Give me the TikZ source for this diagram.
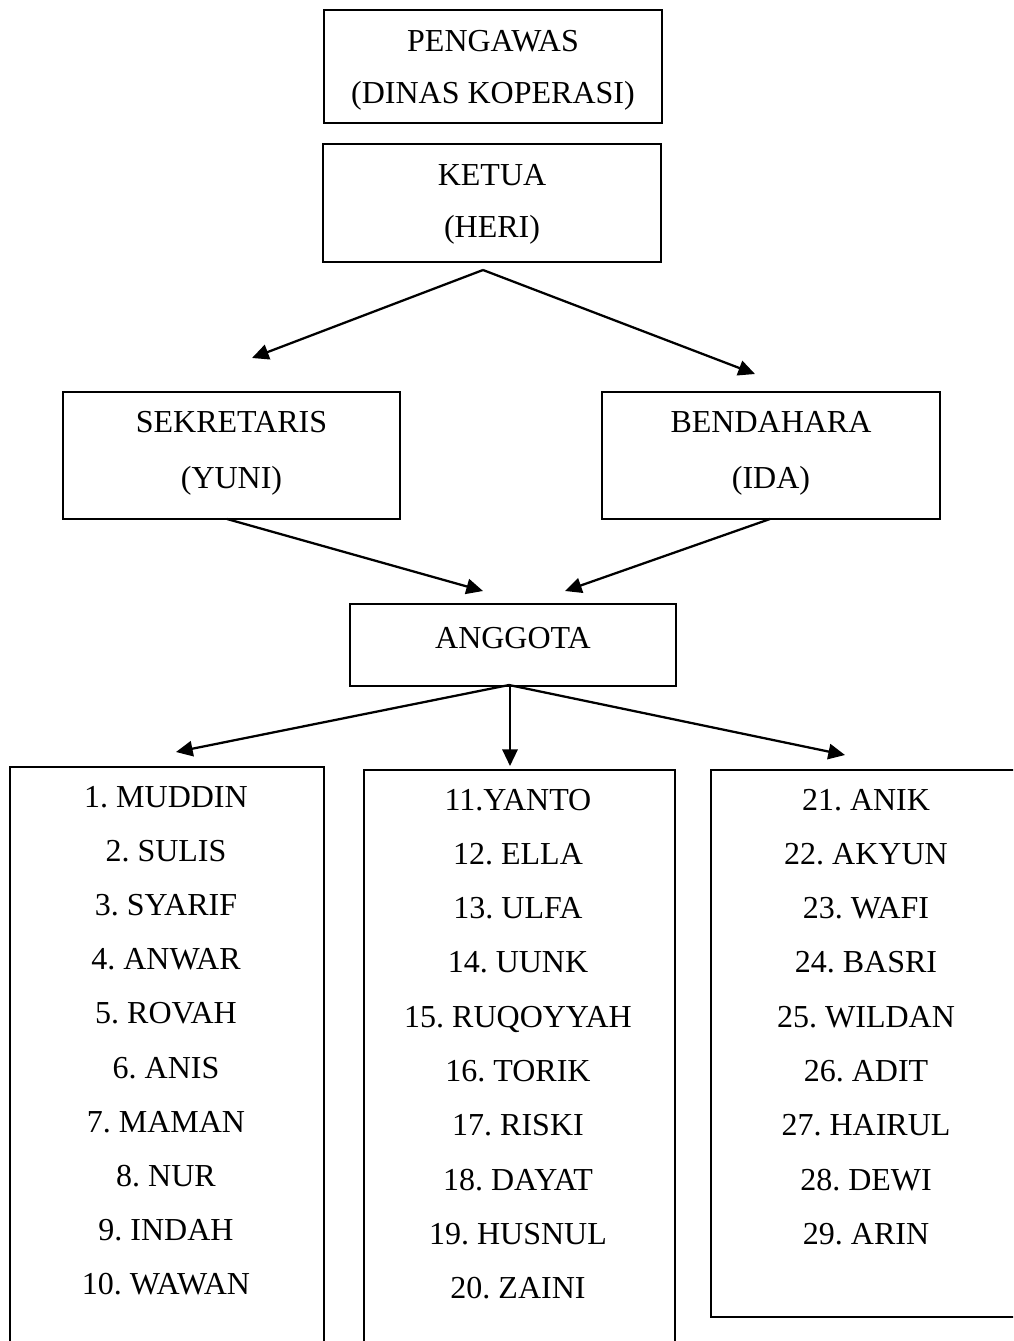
\documentclass[tikz,border=0pt]{standalone}
\usepackage{fontspec}
\setmainfont{Liberation Serif}
\usetikzlibrary{arrows.meta}
\frenchspacing
\begin{document}
\begin{tikzpicture}[x=0.75pt,y=-0.75pt,
  box/.style={draw, line width=1.4pt, inner sep=0pt, outer sep=0pt},
  txt/.style={font=\fontsize{24}{28}\selectfont, anchor=base, inner sep=0pt},
  arr/.style={line width=1.7pt, -{Triangle[length=12.5pt,width=11.5pt]}}]
\useasboundingbox (0,0) rectangle (1013,1341);
\clip (0,0) rectangle (1013,1341);
% boxes
\node[box, minimum width=253.5pt, minimum height=84.75pt] (peng) at (493,66.5) {};
\node[box, minimum width=253.5pt, minimum height=88.5pt] (ketua) at (492,203) {};
\node[box, minimum width=252.75pt, minimum height=95.25pt] (sek) at (231.5,455.5) {};
\node[box, minimum width=253.5pt, minimum height=95.25pt] (bend) at (771,455.5) {};
\node[box, minimum width=244.5pt, minimum height=61.5pt] (angg) at (513,645) {};
\node[box, minimum width=235.5pt, minimum height=459.75pt] (list1) at (167,1073.5) {};
\node[box, minimum width=233.25pt, minimum height=457.5pt] (list2) at (519.5,1075) {};
\node[box, minimum width=246.75pt, minimum height=410.25pt] (list3) at (875.5,1043.5) {};
% texts
\node[txt] (peng1) at (493,52) {PENGAWAS};
\node[txt] (peng2) at (493,104) {(DINAS KOPERASI)};
\node[txt] (ketua1) at (492,186) {KETUA};
\node[txt] (ketua2) at (492,238) {(HERI)};
\node[txt] (sek1) at (231.5,432) {SEKRETARIS};
\node[txt] (sek2) at (231.5,488) {(YUNI)};
\node[txt] (bend1) at (771,432) {BENDAHARA};
\node[txt] (bend2) at (771,488) {(IDA)};
\node[txt] (angg1) at (513,648) {ANGGOTA};
\foreach \t [count=\i from 0] in {1. MUDDIN, 2. SULIS, 3. SYARIF, 4. ANWAR, 5. ROVAH, 6. ANIS, 7. MAMAN, 8. NUR, 9. INDAH, 10. WAWAN}
  \node[txt] (a\i) at (166,807+54.2*\i) {\t};
\foreach \t [count=\i from 0] in {11.YANTO, 12. ELLA, 13. ULFA, 14. UUNK, 15. RUQOYYAH, 16. TORIK, 17. RISKI, 18. DAYAT, 19. HUSNUL, 20. ZAINI}
  \node[txt] (b\i) at (518,810+54.3*\i) {\t};
\foreach \t [count=\i from 0] in {21. ANIK, 22. AKYUN, 23. WAFI, 24. BASRI, 25. WILDAN, 26. ADIT, 27. HAIRUL, 28. DEWI, 29. ARIN}
  \node[txt] (c\i) at (866,810+54.3*\i) {\t};
% connector ends
\coordinate (k0) at (483,270);
\coordinate (ks) at (252,358);
\coordinate (kb) at (755,374);
\coordinate (s0) at (227,519);
\coordinate (sa) at (483,591);
\coordinate (b0) at (770,519);
\coordinate (ba) at (565,591);
\coordinate (a0) at (509,685);
\coordinate (al) at (176,752);
\coordinate (am) at (510,766);
\coordinate (ar) at (845,755);
\draw[arr] (k0) -- (ks);
\draw[arr] (k0) -- (kb);
\draw[arr] (s0) -- (sa);
\draw[arr] (b0) -- (ba);
\draw[arr] (a0) -- (al);
\draw[arr] (a0 -| am) -- (am);
\draw[arr] (a0) -- (ar);
\end{tikzpicture}
\end{document}
